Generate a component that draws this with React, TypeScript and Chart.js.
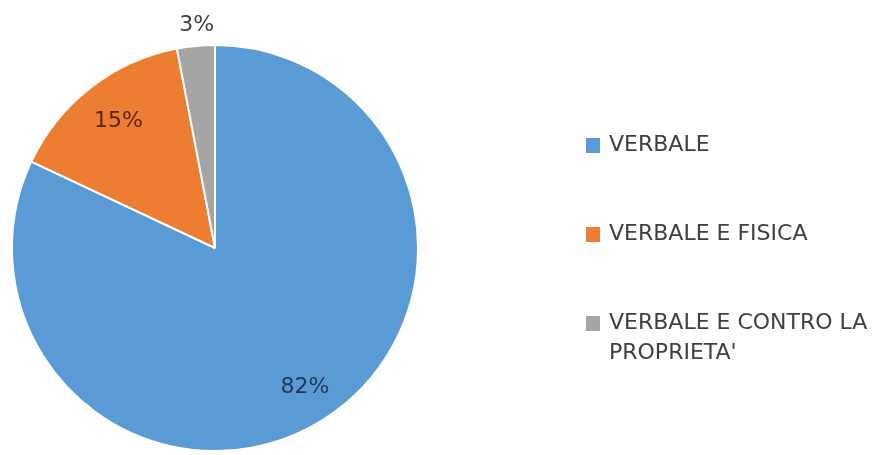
import React, { useEffect, useRef } from "react";
import { Chart, registerables } from "chart.js";

Chart.register(...registerables);

const categories = ["VERBALE", "VERBALE E FISICA", "VERBALE E CONTRO LA PROPRIETA'"];
const legendLines = [["VERBALE"], ["VERBALE E FISICA"], ["VERBALE E CONTRO LA", "PROPRIETA'"]];
const values = [82, 15, 3];
const labelTexts = ["82%", "15%", "3%"];
const colors = ["#5b9bd5", "#ed7d31", "#a5a5a5"];
const labelColors = ["#1e3553", "#5a2410", "#404040"];
const labelOutside = [false, false, true];

const FONT = "'DejaVu Sans', sans-serif";

const labelPlugin = {
  id: "pieLabels",
  afterDatasetsDraw(chart: any) {
    const ctx = chart.ctx;
    const meta = chart.getDatasetMeta(0);
    ctx.save();
    ctx.font = `22px ${FONT}`;
    ctx.textAlign = "center";
    ctx.textBaseline = "middle";
    meta.data.forEach((arc: any, i: number) => {
      const { x, y, startAngle, endAngle, outerRadius } = arc.getProps(
        ["x", "y", "startAngle", "endAngle", "outerRadius"],
        true
      );
      const mid = (startAngle + endAngle) / 2;
      const r = labelOutside[i] ? outerRadius + 23 : outerRadius * 0.8;
      ctx.fillStyle = labelColors[i];
      ctx.fillText(labelTexts[i], x + Math.cos(mid) * r + 3, y + Math.sin(mid) * r + 2);
    });
    ctx.restore();
  },
};

const legendPlugin = {
  id: "sideLegend",
  afterDraw(chart: any) {
    const ctx = chart.ctx;
    const area = chart.chartArea;
    const boxX = area.right + 167;
    const textX = boxX + 23;
    const firstY = 145;
    const gap = 89;
    const lineH = 30;
    ctx.save();
    ctx.font = `22px ${FONT}`;
    ctx.textAlign = "left";
    ctx.textBaseline = "middle";
    legendLines.forEach((lines, i) => {
      const y = firstY + i * gap;
      ctx.fillStyle = colors[i];
      ctx.fillRect(boxX, y - 7, 14, 15);
      ctx.fillStyle = "#404040";
      lines.forEach((t, j) => ctx.fillText(t, textX, y + j * lineH));
    });
    ctx.restore();
  },
};

export default function App() {
  const ref = useRef<HTMLCanvasElement>(null);
  useEffect(() => {
    document.body.style.margin = "0";
    const chart = new Chart(ref.current as HTMLCanvasElement, {
      type: "pie",
      data: {
        labels: categories,
        datasets: [
          {
            data: values,
            backgroundColor: colors,
            borderColor: "#ffffff",
            borderWidth: 2,
          },
        ],
      },
      options: {
        animation: false,
        responsive: false,
        maintainAspectRatio: false,
        layout: { padding: { left: 11, top: 44, right: 461, bottom: 3 } },
        plugins: {
          legend: { display: false },
          tooltip: { enabled: false },
        },
      },
      plugins: [labelPlugin, legendPlugin],
    });
    return () => chart.destroy();
  }, []);
  return (
    <div style={{ width: 880, height: 455, background: "#ffffff" }}>
      <canvas ref={ref} width={880} height={455} />
    </div>
  );
}
